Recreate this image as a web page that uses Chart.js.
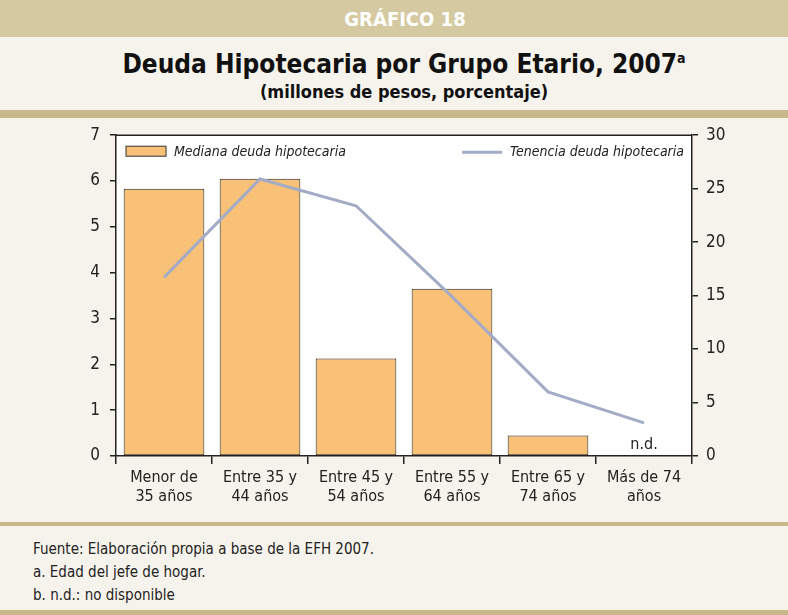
<!DOCTYPE html>
<html>
<head>
<meta charset="utf-8">
<script src="https://cdn.jsdelivr.net/npm/chart.js@4.4.0/dist/chart.umd.min.js"></script>
<style>
  body { margin: 0; background: #f6f3ec; width: 788px; height: 615px; overflow: hidden; font-family: "DejaVu Sans Condensed", "Liberation Sans Narrow", sans-serif; }
  #head { position: absolute; left: 0; top: 0; width: 788px; height: 37px; background: #d5c9a2; }
  #head span { position: absolute; left: 22px; width: 766px; text-align: center; color: #fff; font-weight: bold; font-size: 20px; line-height: 38px; }
  #title { position: absolute; left: 20px; top: 49px; width: 768px; text-align: center; color: #111; font-weight: bold; font-size: 26px; }
  #title sup { font-size: 14px; vertical-align: 10px; }
  #sub { position: absolute; left: 20px; top: 81px; width: 768px; text-align: center; color: #111; font-weight: bold; font-size: 18px; }
  #band { position: absolute; left: 0; top: 110px; width: 788px; height: 8px; background: #c9b98a; }
  #wrap { position: absolute; left: 0; top: 115px; width: 788px; height: 407px; }
  #line1 { position: absolute; left: 0; top: 522px; width: 788px; height: 4px; background: #c9b98a; }
  #notes { position: absolute; left: 33px; top: 538px; font-size: 15px; color: #222; line-height: 23px; }
  #line2 { position: absolute; left: 0; top: 610px; width: 788px; height: 5px; background: #c9b98a; }
</style>
</head>
<body>
<div id="head"><span>GRÁFICO 18</span></div>
<div id="title">Deuda Hipotecaria por Grupo Etario, 2007<sup>a</sup></div>
<div id="sub">(millones de pesos, porcentaje)</div>
<div id="band"></div>
<div id="wrap"><canvas id="chart" width="788" height="407"></canvas></div>
<div id="line1"></div>
<div id="notes">Fuente: Elaboración propia a base de la EFH 2007.<br>a. Edad del jefe de hogar.<br>b. n.d.: no disponible</div>
<div id="line2"></div>
<script>
var categories = [["Menor de", "35 años"], ["Entre 35 y", "44 años"], ["Entre 45 y", "54 años"], ["Entre 55 y", "64 años"], ["Entre 65 y", "74 años"], ["Más de 74", "años"]];
var medianaDeuda = [5.83, 6.05, 2.13, 3.65, 0.45, null];
var tenenciaDeuda = [16.7, 25.9, 23.4, 14.9, 6.0, 3.1];
var leftTicks = [0, 1, 2, 3, 4, 5, 6, 7];
var rightTicks = [0, 5, 10, 15, 20, 25, 30];
var missingLabel = "n.d.";
var barLabel = "Mediana deuda hipotecaria";
var lineLabel = "Tenencia deuda hipotecaria";

var fontFam = '"DejaVu Sans Condensed", "Liberation Sans Narrow", sans-serif';

var frame = {
  id: "frame",
  beforeDraw: function (chart) {
    var a = chart.chartArea, c = chart.ctx;
    c.save();
    c.fillStyle = "#fff";
    c.fillRect(a.left, a.top, a.right - a.left, a.bottom - a.top);
    c.restore();
  },
  afterDatasetsDraw: function (chart) {
    var a = chart.chartArea, c = chart.ctx;
    c.save();
    c.strokeStyle = "#222";
    c.lineWidth = 1.5;
    c.beginPath();
    c.moveTo(a.left, a.top);
    c.lineTo(a.right, a.top);
    c.stroke();
    // legend
    c.font = "italic 14px " + fontFam;
    c.textBaseline = "middle";
    c.fillStyle = "#f9c077";
    c.fillRect(a.left + 10, a.top + 11, 40, 10);
    c.lineWidth = 1;
    c.strokeStyle = "#333";
    c.strokeRect(a.left + 10, a.top + 11, 40, 10);
    c.fillStyle = "#222";
    c.textAlign = "left";
    c.fillText(barLabel, a.left + 58, a.top + 17);
    c.textAlign = "right";
    c.fillText(lineLabel, a.right - 8, a.top + 17);
    var w = c.measureText(lineLabel).width;
    c.strokeStyle = "#a3abc6";
    c.lineWidth = 3;
    c.beginPath();
    c.moveTo(a.right - 16 - w - 40, a.top + 17);
    c.lineTo(a.right - 16 - w, a.top + 17);
    c.stroke();
    // n.d. label
    var x = chart.scales.x;
    var y = chart.scales.y;
    medianaDeuda.forEach(function (v, i) {
      if (v === null) {
        c.font = "16px " + fontFam;
        c.textAlign = "center";
        c.textBaseline = "bottom";
        c.fillStyle = "#222";
        c.fillText(missingLabel, x.getPixelForValue(i), y.getPixelForValue(0) - 3);
      }
    });
    c.restore();
  }
};

new Chart(document.getElementById("chart"), {
  type: "bar",
  data: {
    labels: categories,
    datasets: [
      {
        type: "line",
        label: lineLabel,
        data: tenenciaDeuda,
        yAxisID: "y2",
        borderColor: "#a3abc6",
        borderWidth: 3,
        pointRadius: 0,
        tension: 0,
        order: 0
      },
      {
        label: barLabel,
        data: medianaDeuda,
        yAxisID: "y",
        backgroundColor: "#f9c077",
        borderColor: "#222",
        borderWidth: 1,
        borderSkipped: false,
        categoryPercentage: 1,
        barPercentage: 0.84,
        order: 1
      }
    ]
  },
  options: {
    responsive: false,
    animation: false,
    layout: { padding: { top: 9, left: 0, right: 0, bottom: 0 } },
    plugins: { legend: { display: false }, tooltip: { enabled: false } },
    scales: {
      x: {
        grid: { drawOnChartArea: false, drawTicks: true, tickLength: 8, color: "#222", lineWidth: 1.5 },
        border: { display: true, color: "#222", width: 1.5 },
        ticks: { color: "#222", font: { size: 16, family: fontFam }, padding: 4, maxRotation: 0 },
        afterFit: function (s) { s.height = 66; }
      },
      y: {
        position: "left",
        min: 0, max: 7,
        afterBuildTicks: function (s) { s.ticks = leftTicks.map(function (v) { return { value: v }; }); },
        grid: { drawOnChartArea: false, drawTicks: true, tickLength: 6, color: "#222", lineWidth: 1.5 },
        border: { display: true, color: "#222", width: 1.5 },
        ticks: { color: "#222", font: { size: 17, family: fontFam }, padding: 10 },
        afterFit: function (s) { s.width = 116; }
      },
      y2: {
        position: "right",
        min: 0, max: 30,
        afterBuildTicks: function (s) { s.ticks = rightTicks.map(function (v) { return { value: v }; }); },
        grid: { drawOnChartArea: false, drawTicks: true, tickLength: 6, color: "#222", lineWidth: 1.5 },
        border: { display: true, color: "#222", width: 1.5 },
        ticks: { color: "#222", font: { size: 17, family: fontFam }, padding: 8 },
        afterFit: function (s) { s.width = 96; }
      }
    }
  },
  plugins: [frame]
});
</script>
</body>
</html>
